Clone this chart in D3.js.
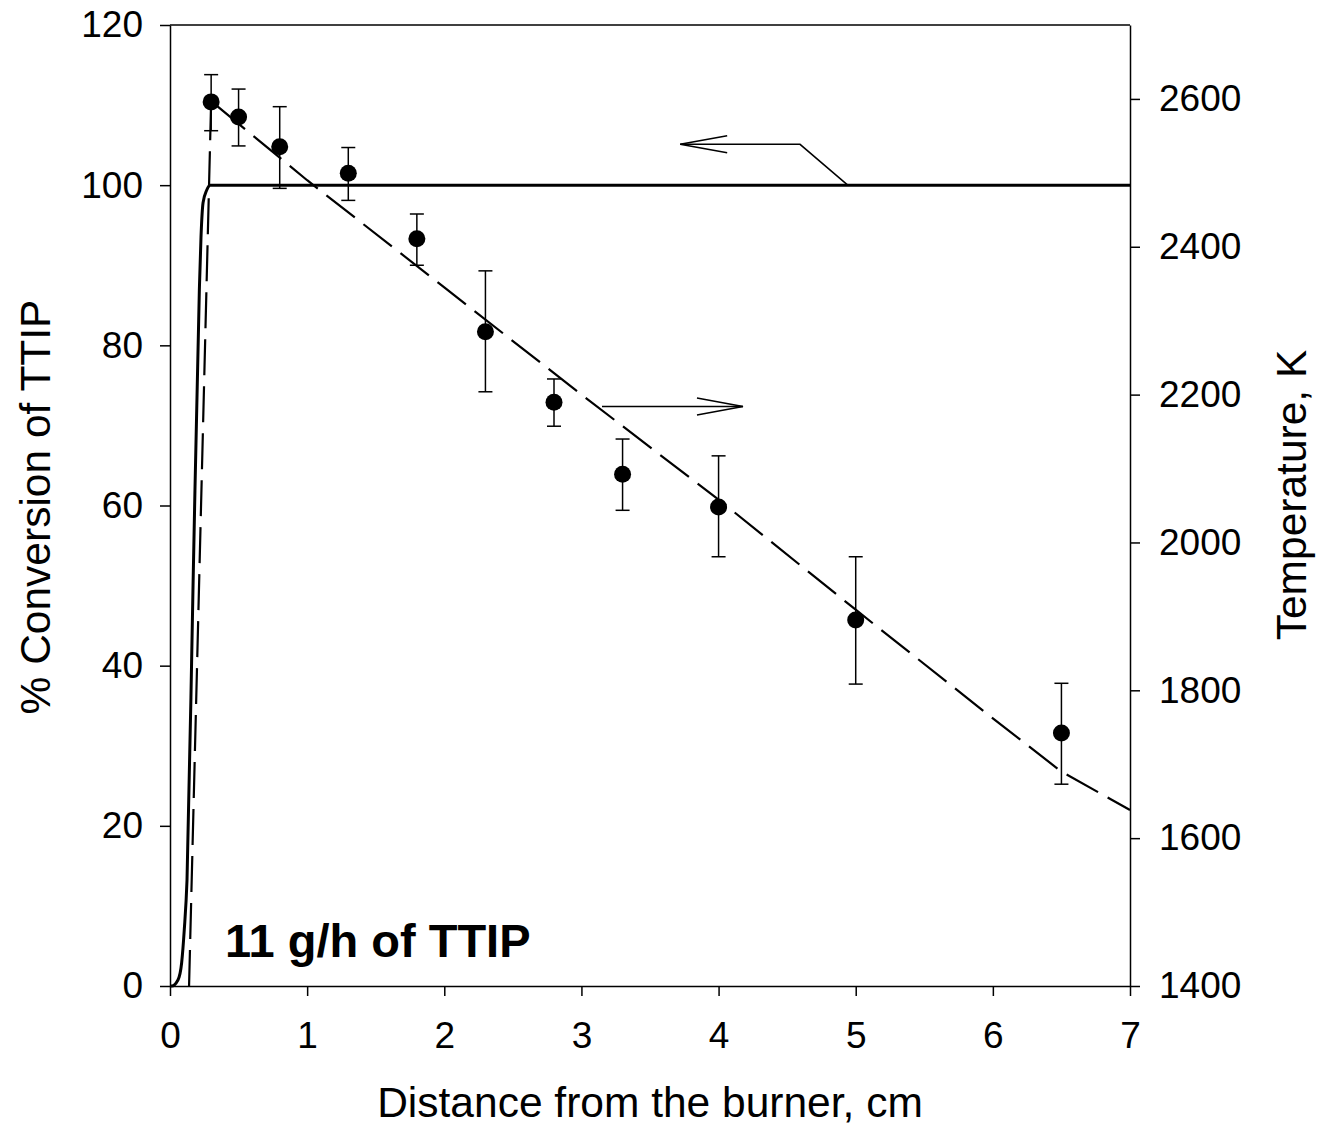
<!DOCTYPE html>
<html>
<head>
<meta charset="utf-8">
<script src="https://cdn.jsdelivr.net/npm/d3@7"></script>
<style>
  body { margin: 0; background: #fff; }
  text { font-family: "Liberation Sans", Arial, sans-serif; }
</style>
</head>
<body>
<svg id="chart" width="1317" height="1126"></svg>
<script>
// measured samples (distance, % conversion, error bar limits)
var sampleX = [0.3, 0.5, 0.8, 1.3, 1.8, 2.3, 2.8, 3.3, 4.0, 5.0, 6.5];
var conversion = [110.4, 108.5, 104.8, 101.5, 93.3, 81.7, 72.9, 63.9, 59.8, 45.7, 31.6];
var errUpper = [113.8, 112.0, 109.8, 104.7, 96.4, 89.3, 75.8, 68.3, 66.2, 53.6, 37.8];
var errLower = [106.8, 104.9, 99.6, 98.1, 90.0, 74.2, 69.9, 59.4, 53.6, 37.7, 25.2];

// model conversion curve (solid)
var modelX = [0, 0.012, 0.058, 0.085, 0.104, 0.124, 0.168, 0.214, 0.226, 0.241, 0.268, 0.292, 7];
var modelY = [0, 0, 0.75, 2.9, 7, 13.2, 50, 86.9, 93.5, 97.8, 99.4, 100, 100];

// temperature profile (dashed, right axis)
var profileX = [0.139, 0.3, 1.0, 2.0, 3.0, 4.0, 5.0, 6.0, 6.5, 7.0];
var profileT = [1400, 2597, 2490, 2345, 2200, 2058, 1909, 1762, 1690, 1638];

var xTicks = [0, 1, 2, 3, 4, 5, 6, 7];
var yTicks = [0, 20, 40, 60, 80, 100, 120];
var tTicks = [1400, 1600, 1800, 2000, 2200, 2400, 2600];

// annotation arrows, in data units
var convArrow = { tip: [3.72, 105.1], elbow: [4.594, 105.1], end: [4.942, 100] };
var tempArrow = { start: [3.15, 2184], tip: [4.178, 2184] };

var plotLeft = 170, plotRight = 1130, plotTop = 25, plotBottom = 986;
var svg = d3.select('#chart');

var x = d3.scaleLinear().domain([0, 7]).range([plotLeft, plotRight]);
var y = d3.scaleLinear().domain([0, 120]).range([plotBottom, plotTop]);
var yT = d3.scaleLinear().domain([1400, 2700]).range([plotBottom, plotTop]);

var ink = '#000';

function styleAxis(g) {
    g.selectAll('path').attr('stroke', ink).attr('stroke-width', 1.5);
    g.selectAll('line').attr('stroke', ink).attr('stroke-width', 1.5);
    g.selectAll('text').attr('font-size', 37).attr('fill', ink)
        .style('font-family', '"Liberation Sans", Arial, sans-serif');
}

svg.append('g').attr('transform', 'translate(0,' + plotBottom + ')')
    .call(d3.axisBottom(x).tickValues(xTicks).tickSize(10).tickPadding(26).tickSizeOuter(0).tickFormat(d3.format('d')))
    .call(styleAxis);
svg.append('g').attr('transform', 'translate(' + plotLeft + ',0)')
    .call(d3.axisLeft(y).tickValues(yTicks).tickSize(10).tickPadding(17).tickSizeOuter(0).tickFormat(d3.format('d')))
    .call(styleAxis);
svg.append('g').attr('transform', 'translate(' + plotRight + ',0)')
    .call(d3.axisRight(yT).tickValues(tTicks).tickSize(10).tickPadding(19).tickSizeOuter(0).tickFormat(d3.format('d')))
    .call(styleAxis);

// top frame line
svg.append('line').attr('x1', plotLeft).attr('x2', plotRight).attr('y1', plotTop).attr('y2', plotTop)
    .attr('stroke', ink).attr('stroke-width', 1.5);

// model conversion (solid)
var modelPts = modelX.map(function (d, i) { return [d, modelY[i]]; });
svg.append('path')
    .attr('d', d3.line().x(function (d) { return x(d[0]); }).y(function (d) { return y(d[1]); })
        .curve(d3.curveMonotoneX)(modelPts))
    .attr('fill', 'none').attr('stroke', ink).attr('stroke-width', 3);

// temperature profile (dashed)
var profilePts = profileX.map(function (d, i) { return [d, profileT[i]]; });
svg.append('path')
    .attr('d', d3.line().x(function (d) { return x(d[0]); }).y(function (d) { return yT(d[1]); })(profilePts))
    .attr('fill', 'none').attr('stroke', ink).attr('stroke-width', 2.2)
    .attr('stroke-dasharray', '36,11');

// error bars
var cap = 7;
var bars = svg.append('g').attr('stroke', ink).attr('stroke-width', 1.5);
sampleX.forEach(function (d, i) {
    var cx = x(d);
    bars.append('line').attr('x1', cx).attr('x2', cx).attr('y1', y(errUpper[i])).attr('y2', y(errLower[i]));
    bars.append('line').attr('x1', cx - cap).attr('x2', cx + cap).attr('y1', y(errUpper[i])).attr('y2', y(errUpper[i]));
    bars.append('line').attr('x1', cx - cap).attr('x2', cx + cap).attr('y1', y(errLower[i])).attr('y2', y(errLower[i]));
});

// sample markers
svg.append('g').selectAll('circle')
    .data(sampleX)
    .enter().append('circle')
    .attr('cx', function (d) { return x(d); })
    .attr('cy', function (d, i) { return y(conversion[i]); })
    .attr('r', 8.5)
    .attr('fill', ink);

// arrow pointing to the left axis
var arrowG = svg.append('g').attr('fill', 'none').attr('stroke', ink).attr('stroke-width', 1.5);
var tipX = x(convArrow.tip[0]), tipY = y(convArrow.tip[1]);
arrowG.append('polyline').attr('points', [
    [x(convArrow.end[0]), y(convArrow.end[1])],
    [x(convArrow.elbow[0]), y(convArrow.elbow[1])],
    [tipX, tipY]
].join(' '));
arrowG.append('polyline').attr('points', [[tipX + 47, tipY - 8.5], [tipX, tipY], [tipX + 47, tipY + 8.5]].join(' '));

// arrow pointing to the right axis
var t2x = x(tempArrow.tip[0]), t2y = yT(tempArrow.tip[1]);
arrowG.append('line').attr('x1', x(tempArrow.start[0])).attr('y1', yT(tempArrow.start[1]))
    .attr('x2', t2x).attr('y2', t2y);
arrowG.append('polyline').attr('points', [[t2x - 46, t2y - 8.5], [t2x, t2y], [t2x - 46, t2y + 8.5]].join(' '));

// labels
svg.append('text').attr('x', 225).attr('y', 957)
    .attr('font-size', 47).attr('font-weight', 'bold').text('11 g/h of TTIP');

svg.append('text').attr('x', (plotLeft + plotRight) / 2).attr('y', 1117)
    .attr('text-anchor', 'middle').attr('font-size', 42.5).text('Distance from the burner, cm');

svg.append('text').attr('transform', 'translate(50,507) rotate(-90)')
    .attr('text-anchor', 'middle').attr('font-size', 42.5).text('% Conversion of TTIP');

svg.append('text').attr('transform', 'translate(1306,495) rotate(-90)')
    .attr('text-anchor', 'middle').attr('font-size', 42.5).text('Temperature, K');
</script>
</body>
</html>
